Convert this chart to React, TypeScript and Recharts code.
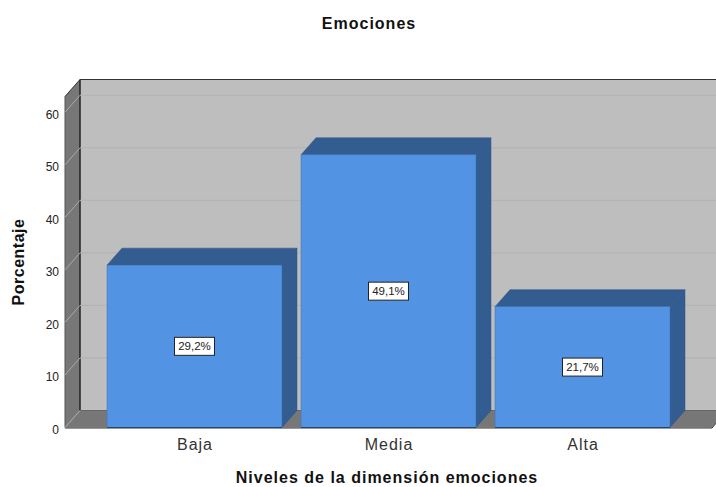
import { BarChart, Bar, XAxis, YAxis, CartesianGrid, ReferenceArea, LabelList } from 'recharts';

const categories = ['Baja', 'Media', 'Alta'];
// bar heights as they read against the axis; the printed percentages are a separate list
const barValues = [30.9, 51.9, 23];
const barLabels = ['29,2%', '49,1%', '21,7%'];
const yTicks = [0, 10, 20, 30, 40, 50, 60];

const chartData = categories.map((name, i) => ({
  name,
  value: barValues[i],
  label: barLabels[i],
}));

const DX = 15;
const DY = 17;
const PAD_LEFT = 32;
const PAD_RIGHT = 33;
const FONT = '"Liberation Sans", Arial, sans-serif';

// ReferenceArea stops at the axis padding, so widen it back out to the plot edges
const Walls = ({ x: ax, y, width: aw, height }: any) => {
  const x = ax - PAD_LEFT;
  const width = aw + PAD_LEFT + PAD_RIGHT;
  const bottom = y + height;
  const right = x + width;
  return (
    <g>
      <rect x={x + DX} y={y - DY} width={width} height={height} fill="#bebebe" />
      <polygon
        points={`${x},${y} ${x + DX},${y - DY} ${x + DX},${bottom - DY} ${x},${bottom}`}
        fill="#777777"
      />
      <polygon
        points={`${x},${bottom} ${x + DX},${bottom - DY} ${right + DX},${bottom - DY} ${right},${bottom}`}
        fill="#777777"
      />
      <path
        d={`M${x},${y} L${x + DX},${y - DY} L${right + DX},${y - DY}`}
        fill="none"
        stroke="#333333"
        strokeWidth={1}
      />
      <path d={`M${x + DX},${y - DY} V${bottom - DY}`} stroke="#222222" strokeWidth={1.5} />
      <path d={`M${x},${y} V${bottom}`} stroke="#555555" strokeWidth={1} />
      <path d={`M${x + DX},${bottom - DY} H${right + DX}`} stroke="#666666" strokeWidth={1} />
      <path d={`M${x},${bottom + 0.5} H${right} L${right + DX},${bottom - DY}`} fill="none" stroke="#333333" strokeWidth={1} />
    </g>
  );
};

const GridLine3D = ({ x1, x2, y1 }: any) => (
  <g>
    <line x1={x1} y1={y1} x2={x1 + DX} y2={y1 - DY} stroke="#a9a9a9" strokeWidth={1} />
    {y1 < 420 && <line x1={x1 + DX} y1={y1 - DY} x2={x2 + DX} y2={y1 - DY} stroke="#b3b3b3" strokeWidth={1} />}
  </g>
);

const Bar3D = ({ x, y, width, height }: any) => {
  const right = x + width;
  const bottom = y + height;
  return (
    <g>
      <polygon
        points={`${x},${y} ${x + DX},${y - DY} ${right + DX},${y - DY} ${right},${y}`}
        fill="#335c91"
        stroke="#2f5482"
        strokeWidth={0.5}
      />
      <polygon
        points={`${right},${y} ${right + DX},${y - DY} ${right + DX},${bottom - DY} ${right},${bottom}`}
        fill="#335c91"
        stroke="#2f5482"
        strokeWidth={0.5}
      />
      <rect x={x} y={y} width={width} height={height} fill="#5393e4" stroke="#3f70ad" strokeWidth={0.5} />
      <line x1={x} y1={bottom} x2={right} y2={bottom} stroke="#24456f" strokeWidth={1} />
    </g>
  );
};

const ValueBox = ({ x, y, width, height, value }: any) => {
  const cx = x + width / 2;
  const cy = y + height / 2;
  return (
    <g>
      <rect x={cx - 20} y={cy - 9} width={40} height={18} fill="#ffffff" stroke="#222222" strokeWidth={1} />
      <text x={cx} y={cy + 4} textAnchor="middle" fontSize={11.5} fontFamily={FONT} fill="#222222">
        {value}
      </text>
    </g>
  );
};

export default function App() {
  return (
    <div style={{ position: 'absolute', left: 0, top: 0, width: 716, height: 487, overflow: 'hidden', background: '#fff' }}>
      <BarChart
        width={716}
        height={487}
        data={chartData}
        margin={{ top: 96.5, right: 4, bottom: 0, left: 0 }}
      >
        <ReferenceArea y1={0} y2={63} shape={Walls} ifOverflow="visible" zIndex={-200} />
        <CartesianGrid vertical={false} horizontal={GridLine3D} syncWithTicks />
        <XAxis
          dataKey="name"
          height={59.5}
          padding={{ left: PAD_LEFT, right: PAD_RIGHT }}
          axisLine={false}
          tickLine={false}
          tickMargin={5}
          tick={{ fontSize: 16, letterSpacing: 1, dx: 1, fontFamily: FONT, fill: '#333333' }}
        />
        <YAxis
          width={65}
          domain={[0, 63]}
          ticks={yTicks}
          axisLine={false}
          tickLine={false}
          tickMargin={0}
          tick={{ fontSize: 12, dy: 2, fontFamily: FONT, fill: '#222222' }}
        />
        <Bar dataKey="value" barSize={175} shape={Bar3D} isAnimationActive={false}>
          <LabelList dataKey="label" content={ValueBox} />
        </Bar>
        <text x={369} y={29} textAnchor="middle" fontSize={16} letterSpacing={1} fontWeight="bold" fontFamily={FONT} fill="#111111">
          Emociones
        </text>
        <text x={387} y={483} textAnchor="middle" fontSize={16} letterSpacing={1} fontWeight="bold" fontFamily={FONT} fill="#111111">
          Niveles de la dimensión emociones
        </text>
        <text
          x={24}
          y={262}
          textAnchor="middle"
          fontSize={16}
          letterSpacing={0.5}
          fontWeight="bold"
          fontFamily={FONT}
          fill="#111111"
          transform="rotate(-90 24 262)"
        >
          Porcentaje
        </text>
      </BarChart>
    </div>
  );
}
